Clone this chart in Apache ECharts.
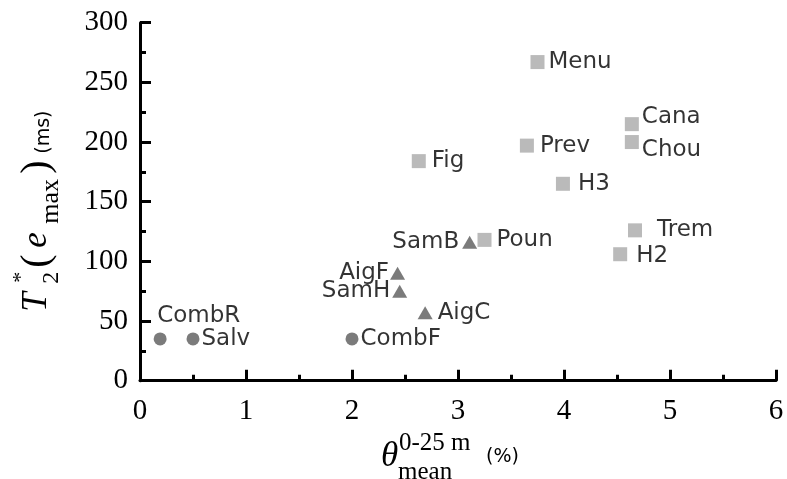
<!DOCTYPE html>
<html>
<head>
<meta charset="utf-8">
<script src="https://cdn.jsdelivr.net/npm/echarts@6/dist/echarts.min.js"></script>
<style>html,body{margin:0;padding:0;background:#fff}#c{width:787px;height:479px}</style>
</head>
<body>
<div id="c"></div>
<script>
// ---- data ----
const siteNames = ['CombR','Salv','CombF','AigF','SamH','AigC','SamB','Poun','Fig','Menu','Prev','H3','Cana','Chou','Trem','H2'];
const thetaMean = [0.19, 0.50, 2.00, 2.43, 2.45, 2.69, 3.11, 3.25, 2.63, 3.75, 3.65, 3.99, 4.64, 4.64, 4.67, 4.53];
const t2Emax    = [35, 35, 35, 90, 75, 57, 116, 118, 184, 267, 197, 165, 215, 200, 126, 106];
const siteGroup = ['circle','circle','circle','triangle','triangle','triangle','triangle','square','square','square','square','square','square','square','square','square'];
const xTicks = [0, 1, 2, 3, 4, 5, 6];
const yTicks = [0, 50, 100, 150, 200, 250, 300];

// ---- label placement (style only) ----
const labelPlace = {
  CombR: {position: [3.5, -16], align: 'left', verticalAlign: 'middle'},
  Salv:  {position: 'right', distance: 2},
  CombF: {position: 'right', distance: 2},
  AigF:  {position: 'left', distance: 1},
  SamH:  {position: 'left', distance: 2},
  AigC:  {position: 'right', distance: 5},
  SamB:  {position: 'left', distance: 3},
  Poun:  {position: 'right', distance: 5},
  Fig:   {position: 'right', distance: 6},
  Menu:  {position: 'right', distance: 4},
  Prev:  {position: 'right', distance: 6},
  H3:    {position: 'right', distance: 8},
  Cana:  {position: 'right', distance: 3, offset: [0, -7]},
  Chou:  {position: 'right', distance: 3, offset: [0, 8]},
  Trem:  {position: 'right', distance: 15},
  H2:    {position: 'right', distance: 9, offset: [0, 2]}
};

function itemsFor(group) {
  const out = [];
  siteNames.forEach((n, i) => {
    if (siteGroup[i] === group) {
      out.push({name: n, value: [thetaMean[i], t2Emax[i]], label: labelPlace[n]});
    }
  });
  return out;
}

const labelBase = {show: true, formatter: '{b}', color: '#000', fontFamily: 'DejaVu Sans', fontSize: 23};
const serif = 'Liberation Serif';
const K = '#000';

const chart = echarts.init(document.getElementById('c'), null, {renderer: 'canvas'});
chart.setOption({
  animation: false,
  backgroundColor: '#fff',
  grid: {left: 140, right: 11, top: 22.7, bottom: 98.3, containLabel: false, outerBoundsMode: 'none'},
  xAxis: {
    type: 'value', min: xTicks[0], max: xTicks[xTicks.length - 1], interval: 1,
    axisLine: {show: true, onZero: false, lineStyle: {color: K, width: 3}},
    axisTick: {show: true, inside: true, length: 11, lineStyle: {color: K, width: 3}},
    minorTick: {show: true, splitNumber: 2, length: 6, lineStyle: {color: K, width: 3}},
    splitLine: {show: false},
    axisLabel: {color: K, fontFamily: serif, fontSize: 29, margin: 16},
    name: '{th|θ}{mn|mean}{sp|0-25 m}{pc|(%)}',
    nameLocation: 'middle', nameGap: 50,
    nameTextStyle: {
      padding: [0, 22, 0, 0],
      rich: {
        th: {align: 'left', width: 17, fontFamily: serif, fontStyle: 'italic', fontSize: 35, lineHeight: 52, verticalAlign: 'middle', color: K},
        mn: {align: 'left', width: 1, fontFamily: serif, fontSize: 25, lineHeight: 20, verticalAlign: 'top', padding: [29, 0, 0, 0], color: K},
        sp: {align: 'left', width: 87, fontFamily: serif, fontSize: 25, lineHeight: 20, verticalAlign: 'top', color: K},
        pc: {align: 'left', width: 27, fontFamily: 'DejaVu Sans', fontSize: 19, lineHeight: 52, verticalAlign: 'middle', color: K}
      }
    }
  },
  yAxis: {
    type: 'value', min: yTicks[0], max: yTicks[yTicks.length - 1], interval: 50,
    axisLine: {show: true, onZero: false, lineStyle: {color: K, width: 3}},
    axisTick: {show: true, inside: true, length: 11, lineStyle: {color: K, width: 3}},
    minorTick: {show: true, splitNumber: 2, length: 6, lineStyle: {color: K, width: 3}},
    splitLine: {show: false},
    axisLabel: {color: K, fontFamily: serif, fontSize: 29, margin: 12},
    name: '{T|T}{s2|2}{st|*}{pl|(}{e|e}{mx|max}{pr|)}{ms|(ms)}',
    nameLocation: 'middle', nameGap: 75, nameRotate: 90,
    nameTextStyle: {
      padding: [0, 20, 0, 0],
      rich: {
        T:  {align: 'left', width: 28, fontFamily: serif, fontStyle: 'italic', fontSize: 35, lineHeight: 56, verticalAlign: 'middle', color: K},
        s2: {align: 'left', width: 1, fontFamily: serif, fontSize: 24, lineHeight: 20, verticalAlign: 'top', padding: [31, 0, 0, 0], color: K},
        st: {align: 'left', width: 15, fontFamily: serif, fontSize: 22, lineHeight: 20, verticalAlign: 'top', padding: [1, 0, 0, 0], color: K},
        pl: {align: 'left', width: 20, fontFamily: serif, fontSize: 40, lineHeight: 56, verticalAlign: 'middle', color: K},
        e:  {align: 'left', width: 24, fontFamily: serif, fontStyle: 'italic', fontSize: 35, lineHeight: 56, verticalAlign: 'middle', color: K},
        mx: {align: 'left', width: 50, fontFamily: serif, fontSize: 26, lineHeight: 20, verticalAlign: 'top', padding: [29, 0, 0, 0], color: K},
        pr: {align: 'left', width: 20, fontFamily: serif, fontSize: 40, lineHeight: 56, verticalAlign: 'middle', color: K},
        ms: {align: 'left', width: 42, fontFamily: 'DejaVu Sans', fontSize: 19, lineHeight: 20, verticalAlign: 'top', padding: [26, 0, 0, 0], color: K}
      }
    }
  },
  series: [
    {type: 'scatter', symbol: 'circle', symbolSize: 13, itemStyle: {color: '#5a5a5a'}, label: labelBase, data: itemsFor('circle')},
    {type: 'scatter', symbol: 'triangle', symbolSize: [15, 13], itemStyle: {color: '#5a5a5a'}, label: labelBase, data: itemsFor('triangle')},
    {type: 'scatter', symbol: 'rect', symbolSize: 14, itemStyle: {color: '#a9a9a9'}, label: labelBase, data: itemsFor('square')}
  ]
});
</script>
</body>
</html>
